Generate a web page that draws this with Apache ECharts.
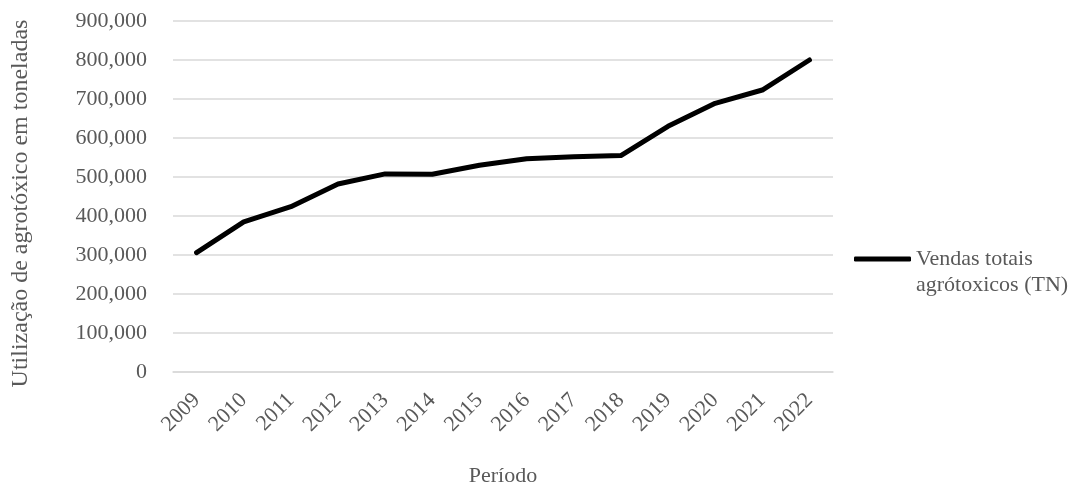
<!DOCTYPE html>
<html>
<head>
<meta charset="utf-8">
<script src="https://cdn.jsdelivr.net/npm/echarts@6/dist/echarts.min.js"></script>
<style>
    html, body { margin: 0; padding: 0; background: #fff; }
    #chart { width: 1078px; height: 485px; }
</style>
</head>
<body>
<div id="chart"></div>
<script>
const years = ['2009', '2010', '2011', '2012', '2013', '2014', '2015', '2016', '2017', '2018', '2019', '2020', '2021', '2022'];
const vendas_totais = [306000, 385000, 424000, 482000, 508000, 507000, 530000, 547000, 552000, 555000, 630000, 689000, 723000, 800000];
const y_ticks = [0, 100000, 200000, 300000, 400000, 500000, 600000, 700000, 800000, 900000];

const FONT = '"Liberation Serif", "Times New Roman", serif';
const TEXT_COLOR = '#595959';
const SERIES_NAME = 'Vendas totais\nagrótoxicos (TN)';

let chart = echarts.init(document.getElementById('chart'));

chart.setOption({
    animation: false,
    textStyle: { fontFamily: FONT },
    grid: { left: 173, right: 245, top: 21, bottom: 113, outerBoundsMode: 'none' },
    legend: {
        orient: 'vertical',
        left: 849,
        top: 215,
        itemWidth: 57,
        itemHeight: 5,
        icon: 'roundRect',
        data: [SERIES_NAME],
        // leading blank line keeps the first text line level with the icon
        formatter: function (name) {
            return '\n' + name;
        },
        textStyle: { fontFamily: FONT, fontSize: 22, color: TEXT_COLOR, lineHeight: 26 }
    },
    xAxis: {
        type: 'category',
        data: years,
        boundaryGap: true,
        name: 'Período',
        nameLocation: 'middle',
        nameGap: 93,
        nameTextStyle: { fontFamily: FONT, fontSize: 22, color: TEXT_COLOR },
        axisLine: { show: true, lineStyle: { color: '#d9d9d9', width: 1.5 } },
        axisTick: { show: false },
        axisLabel: {
            interval: 0,
            rotate: 45,
            margin: 25,
            fontFamily: FONT,
            fontSize: 22,
            color: TEXT_COLOR
        }
    },
    yAxis: {
        type: 'value',
        min: 0,
        max: 900000,
        interval: 100000,
        name: 'Utilização de agrotóxico em toneladas',
        nameLocation: 'middle',
        nameGap: 140,
        nameTextStyle: { fontFamily: FONT, fontSize: 24, color: TEXT_COLOR, padding: [0, 14, 0, 0] },
        axisLine: { show: false },
        axisTick: { show: false },
        splitLine: { lineStyle: { color: '#d9d9d9', width: 1.5 } },
        axisLabel: {
            margin: 26,
            fontFamily: FONT,
            fontSize: 22,
            color: TEXT_COLOR,
            formatter: function (v) {
                return y_ticks.indexOf(v) >= 0 ? v.toLocaleString('en-US') : '';
            }
        }
    },
    series: [
        {
            name: SERIES_NAME,
            type: 'line',
            data: vendas_totais,
            symbol: 'none',
            lineStyle: { color: '#000', width: 5, cap: 'round', join: 'round' },
            itemStyle: { color: '#000' }
        }
    ]
});

window.addEventListener('resize', function () {
    chart.resize();
});
</script>
</body>
</html>
